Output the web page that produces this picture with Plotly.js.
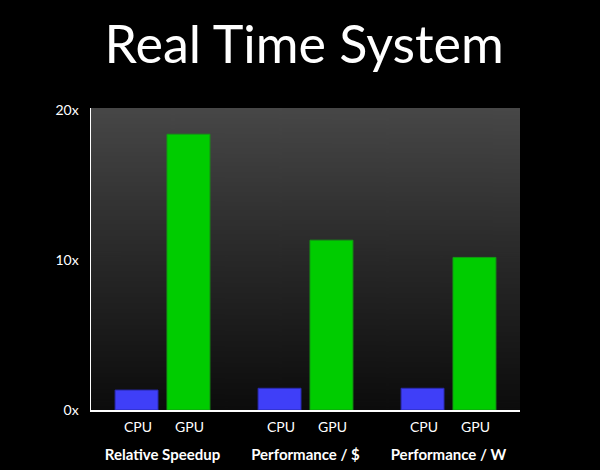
<!DOCTYPE html>
<html>
<head>
<meta charset="utf-8">
<script src="https://cdn.plot.ly/plotly-3.0.1.min.js"></script>
<style>
html,body{margin:0;padding:0;background:#000;}
#chart{width:600px;height:470px;}
</style>
</head>
<body>
<div id="chart"></div>
<script>
var groups = ['Relative Speedup', 'Performance / $', 'Performance / W'];
var seriesNames = ['CPU', 'GPU'];
var cpuValues = [1.33, 1.45, 1.45];
var gpuValues = [18.4, 11.33, 10.18];
var yTickVals = [0, 10, 20];
var yTickText = ['0x', '10x', '20x'];

// gradient background for plot area
var cv = document.createElement('canvas');
cv.width = 8; cv.height = 300;
var ctx = cv.getContext('2d');
var g = ctx.createLinearGradient(0, 0, 0, 300);
g.addColorStop(0, '#474747');
g.addColorStop(0.5, '#282828');
g.addColorStop(1, '#0c0c0c');
ctx.fillStyle = g;
ctx.fillRect(0, 0, 8, 300);
var bgUrl = cv.toDataURL('image/png');

var traces = [
  {type: 'bar', name: seriesNames[0], x: groups, y: cpuValues,
   marker: {color: '#3f3ff8', line: {color: '#2a2ab0', width: 1}}, hoverinfo: 'skip'},
  {type: 'bar', name: seriesNames[1], x: groups, y: gpuValues,
   marker: {color: '#00cc00', line: {color: '#129a12', width: 1}}, hoverinfo: 'skip'}
];

var annotations = [];
groups.forEach(function (grp) {
  seriesNames.forEach(function (s, si) {
    annotations.push({
      xref: 'x', yref: 'y', x: grp, y: 0,
      xshift: si === 0 ? -25 : 27, yshift: -6,
      xanchor: 'center', yanchor: 'top',
      text: s, showarrow: false,
      font: {family: 'Lato, sans-serif', size: 14, color: '#ffffff'}
    });
  });
});

var layout = {
  width: 600, height: 470,
  paper_bgcolor: '#000000',
  plot_bgcolor: 'rgba(0,0,0,0)',
  margin: {l: 91, r: 80, t: 108, b: 60},
  showlegend: false,
  barmode: 'group',
  bargap: 0.274,
  bargroupgap: 0.173,
  title: {
    text: 'Real Time System',
    font: {family: 'Lato, sans-serif', size: 52, color: '#ffffff'},
    x: 0.507, xanchor: 'center',
    yref: 'container', y: 0.905, yanchor: 'middle'
  },
  xaxis: {
    type: 'category',
    showline: true, linecolor: '#ffffff', linewidth: 2,
    showgrid: false, zeroline: false, ticks: '',
    ticklabelstandoff: 30,
    tickfont: {family: 'Lato, sans-serif', size: 15, color: '#ffffff', weight: 'bold'},
    fixedrange: true
  },
  yaxis: {
    range: [0, 20.15],
    tickvals: yTickVals, ticktext: yTickText,
    showline: true, linecolor: '#ffffff', linewidth: 1.5,
    showgrid: false, zeroline: false, ticks: '',
    ticklabelstandoff: 8,
    tickfont: {family: 'Lato, sans-serif', size: 14, color: '#ffffff'},
    fixedrange: true
  },
  images: [{
    source: bgUrl, xref: 'paper', yref: 'paper', x: 0, y: 1,
    sizex: 1, sizey: 1, sizing: 'stretch', layer: 'below',
    xanchor: 'left', yanchor: 'top'
  }],
  annotations: annotations
};

Plotly.newPlot('chart', traces, layout, {displayModeBar: false, staticPlot: true});
</script>
</body>
</html>
